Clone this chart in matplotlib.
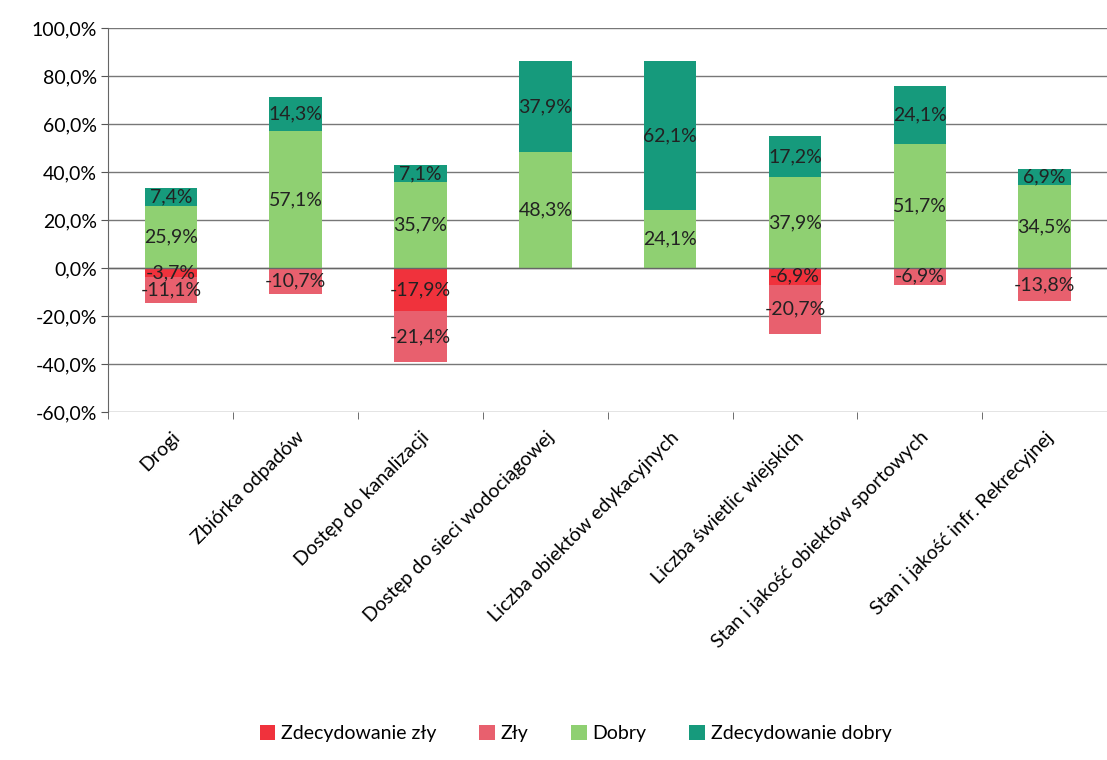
import numpy as np
import matplotlib.pyplot as plt
from matplotlib.ticker import FuncFormatter

plt.rcParams['font.family'] = ['Lato', 'DejaVu Sans']

categories = ['Drogi', 'Zbiórka odpadów', 'Dostęp do kanalizacji',
              'Dostęp do sieci wodociągowej', 'Liczba obiektów edykacyjnych',
              'Liczba świetlic wiejskich', 'Stan i jakość obiektów sportowych',
              'Stan i jakość infr. Rekrecyjnej']
zdec_zly = [-3.7, 0, -17.9, 0, 0, -6.9, 0, 0]
zly = [-11.1, -10.7, -21.4, 0, 0, -20.7, -6.9, -13.8]
dobry = [25.9, 57.1, 35.7, 48.3, 24.1, 37.9, 51.7, 34.5]
zdec_dobry = [7.4, 14.3, 7.1, 37.9, 62.1, 17.2, 24.1, 6.9]

colors = ['#F0323C', '#E8606E', '#8FD072', '#169A7C']
names = ['Zdecydowanie zły', 'Zły', 'Dobry', 'Zdecydowanie dobry']

fig = plt.figure(figsize=(11.07, 7.6), dpi=100)
ax = fig.add_axes([0.098, 0.458, 0.902, 0.505])

x = np.arange(len(categories))
w = 0.42

def label(bars, vals):
    for b, v in zip(bars, vals):
        if v == 0:
            continue
        cy = b.get_y() + b.get_height() / 2
        ax.text(b.get_x() + b.get_width() / 2, cy, f'{v:.1f}%'.replace('.', ','),
                ha='center', va='center', fontsize=14, color='#222222')

b1 = ax.bar(x, zdec_zly, w, color=colors[0], label=names[0])
b2 = ax.bar(x, zly, w, bottom=zdec_zly, color=colors[1], label=names[1])
b3 = ax.bar(x, dobry, w, color=colors[2], label=names[2])
b4 = ax.bar(x, zdec_dobry, w, bottom=dobry, color=colors[3], label=names[3])
for bars, vals in [(b1, zdec_zly), (b2, zly), (b3, dobry), (b4, zdec_dobry)]:
    label(bars, vals)

ax.set_ylim(-60, 100)
ax.set_yticks(np.arange(-60, 101, 20))
ax.yaxis.set_major_formatter(FuncFormatter(lambda v, p: f'{v:.1f}%'.replace('.', ',')))
ax.set_xlim(-0.5, len(categories) - 0.5)
ax.set_xticks(x)
ax.set_xticklabels(categories, rotation=45, ha='right', rotation_mode='anchor', fontsize=14)
ax.set_xticks(np.arange(-0.5, len(categories)), minor=True)
ax.tick_params(axis='x', which='major', length=0, pad=12)
ax.tick_params(axis='x', which='minor', length=5, color='#555555')
ax.tick_params(axis='y', labelsize=14, length=5, color='#555555')
ax.grid(axis='y', color='#777777', lw=1)
ax.set_axisbelow(True)
ax.axhline(0, color='#666666', lw=1)
for s in ['top', 'right', 'bottom']:
    ax.spines[s].set_visible(False)
ax.spines['left'].set_color('#666666')

fig.legend(loc='lower center', bbox_to_anchor=(0.52, 0.0), ncol=4, frameon=False,
           fontsize=14, handlelength=0.8, handleheight=0.8, handletextpad=0.3, columnspacing=2.2)

plt.savefig('out.png')
